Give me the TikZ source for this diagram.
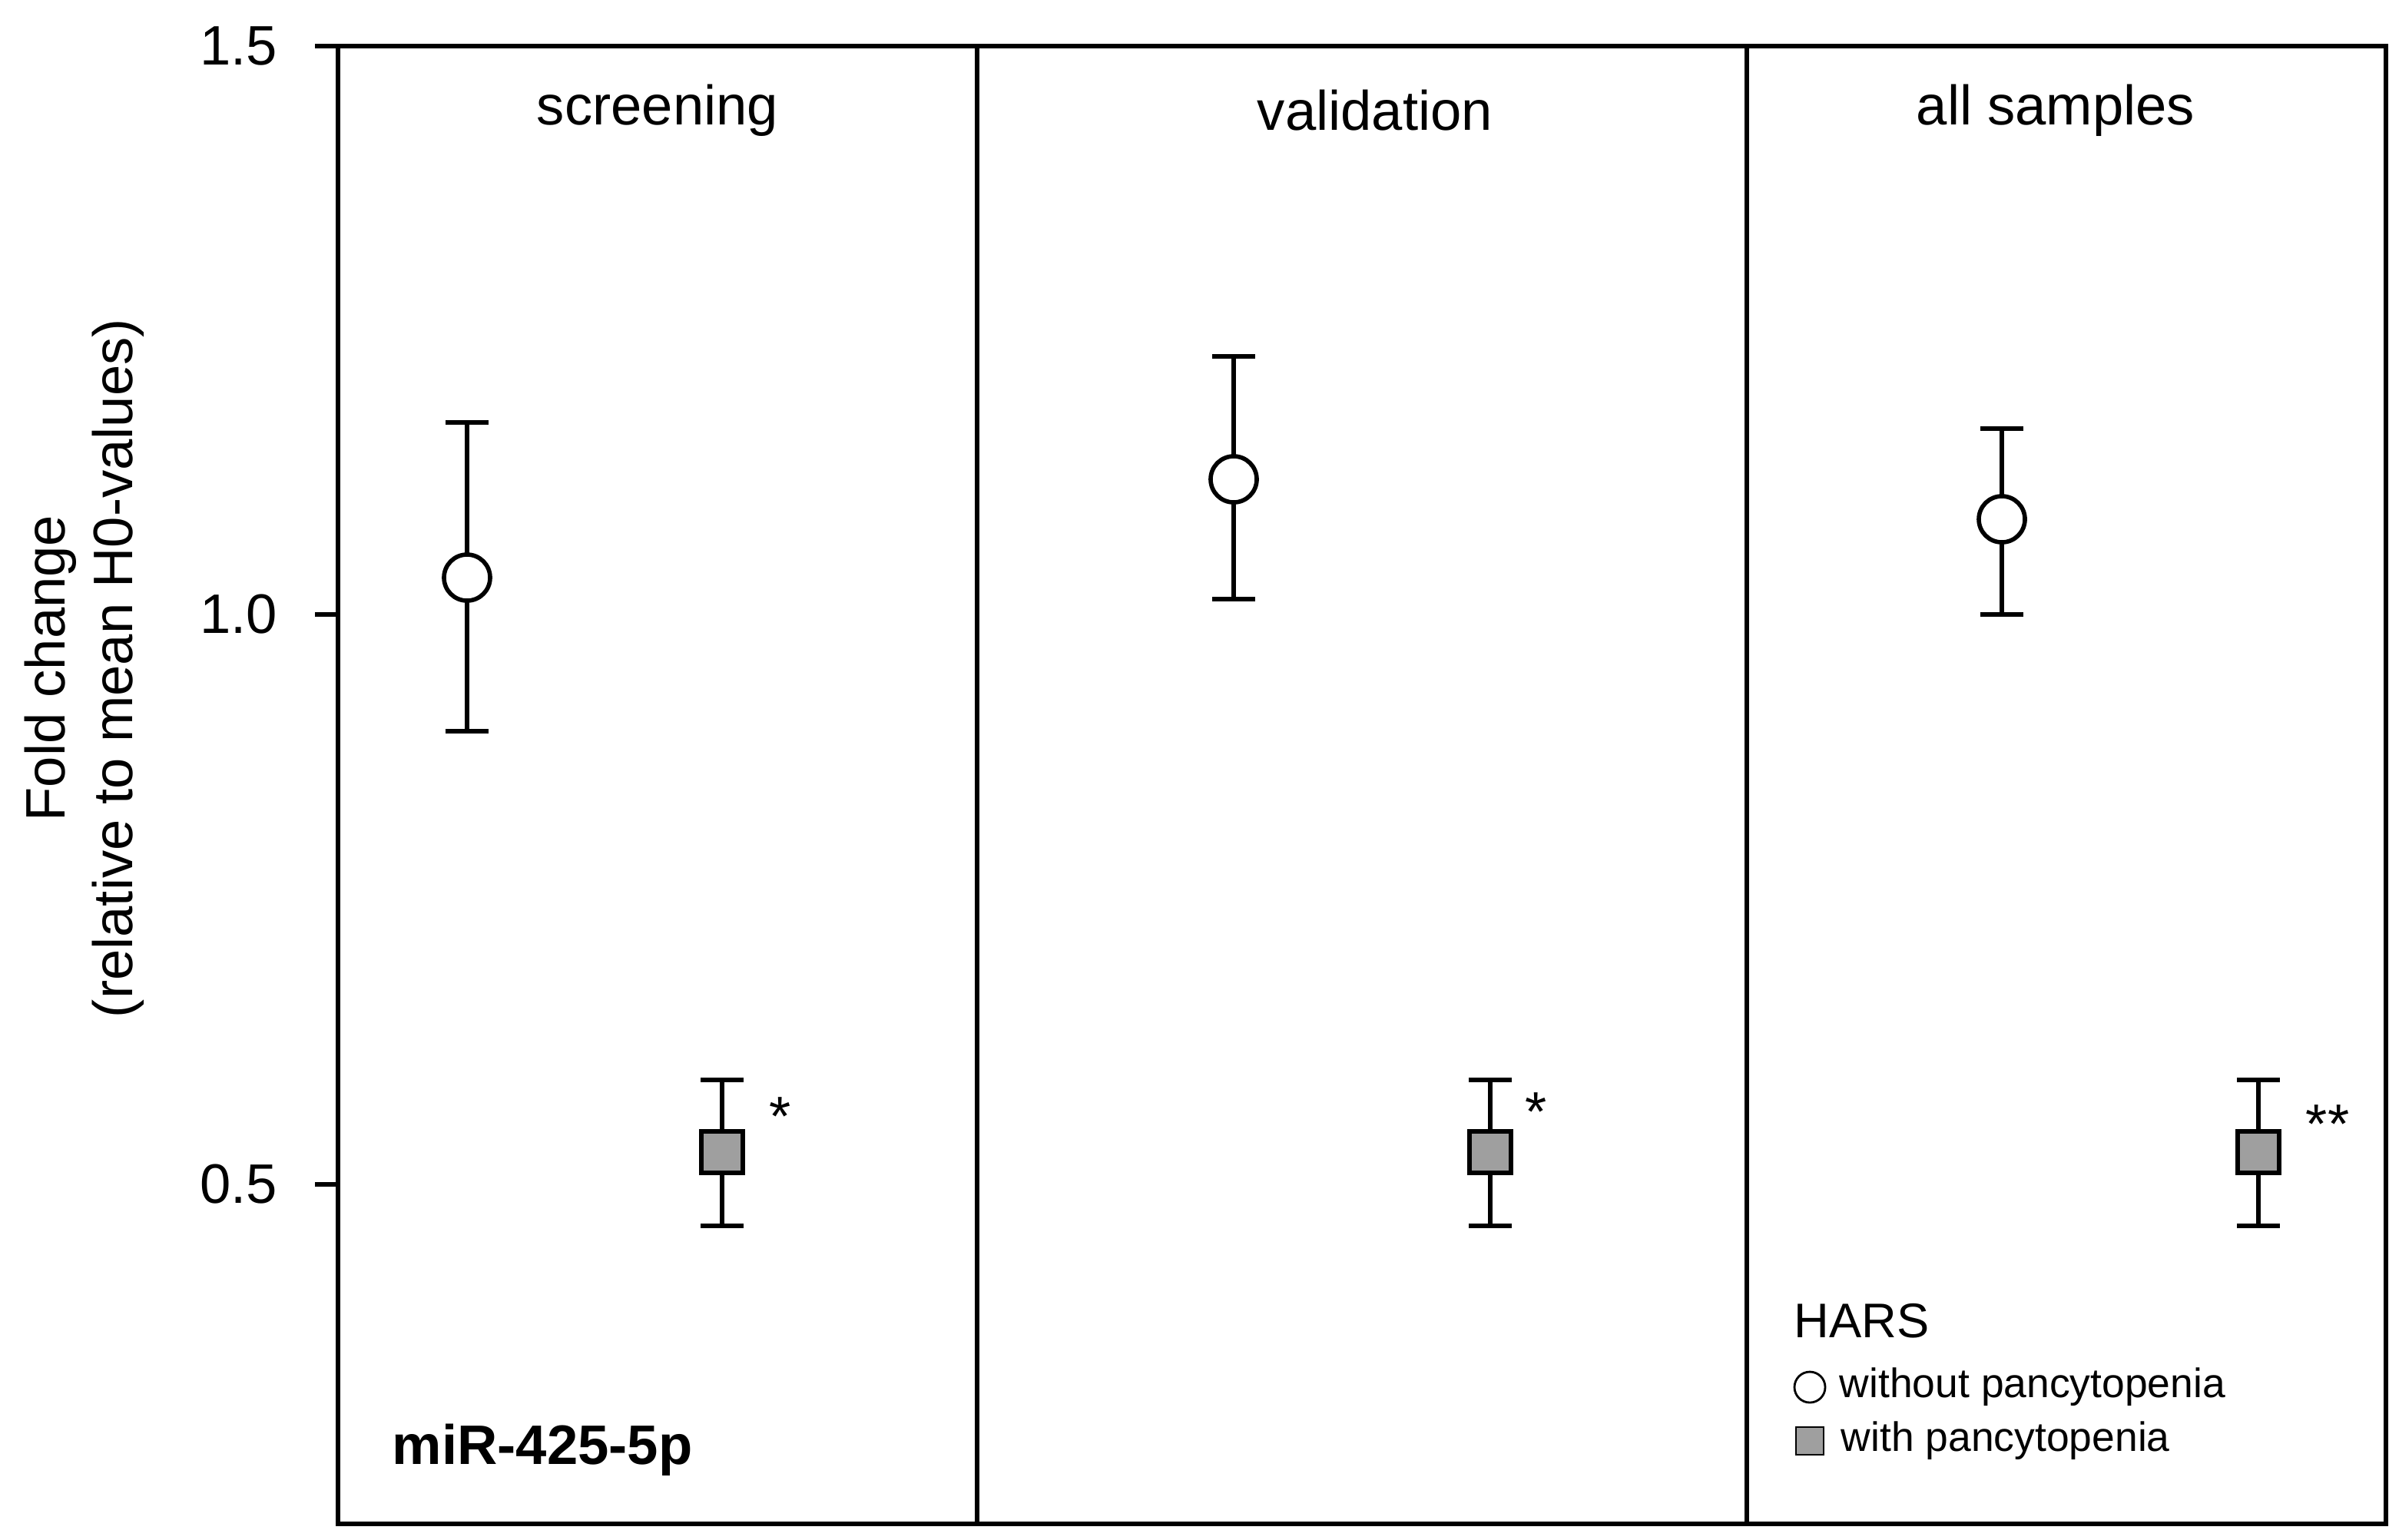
\documentclass[tikz,border=0pt]{standalone}
\usepackage{fontspec}
\setmainfont{Liberation Sans}
\usetikzlibrary{positioning}
\tikzset{
  ctrl/.style={circle,draw,thick,fill=white,minimum size=0.3cm,inner sep=0pt},
  panc/.style={rectangle,draw,thick,fill=gray!75,minimum size=0.27cm,inner sep=0pt},
  errbar/.style={thick},
  ttl/.style={font=\fontsize{10.3}{12.5}\selectfont},
  lgd/.style={font=\fontsize{7.6}{9}\selectfont,anchor=west,inner sep=0pt}
}
\begin{document}
\begin{tikzpicture}[x=0.01cm,y=-0.01cm]
        \useasboundingbox (0,0) rectangle (1555,1002);
        % frame and panels
        \draw[thick] (220,30) rectangle (1553,992);
        \draw[thick] (636,30) -- (636,992);
        \draw[thick] (1137,30) -- (1137,992);
        % y axis
        \foreach \v/\y in {1.5/30,1.0/400,0.5/771}{
          \draw[thick] (205,\y) -- (220,\y);
          \node[ttl,anchor=east] (t\y) at (193,\y) {\v};
        }
        \node[ttl,rotate=90,align=center] (ylab) at (55,435) {Fold change\\(relative to mean H0-values)};
        % titles
        \node[ttl] (ts) at (428,72) {screening};
        \node[ttl] (tv) at (895,72) {validation};
        \node[ttl] (ta) at (1338,72) {all samples};
        % error bars and means
        \foreach \n/\x/\m/\lo/\hi in {cs/304/376/476/275, cv/803/312/390/232, ca/1303/338/400/279,
                                      ps/470/750/798/703, pv/970/750/798/703, pa/1470/750/798/703}{
          \coordinate (\n lo) at (\x,\lo);
          \coordinate (\n hi) at (\x,\hi);
          \draw[errbar] (\n lo) -- (\n hi);
          \draw[errbar] ([xshift=-0.14cm]\n lo) -- ([xshift=0.14cm]\n lo);
          \draw[errbar] ([xshift=-0.14cm]\n hi) -- ([xshift=0.14cm]\n hi);
        }
        \foreach \n/\x/\m in {cs/304/376, cv/803/312, ca/1303/338}
          \node[ctrl] (\n) at (\x,\m) {};
        \foreach \n/\x in {ps/470, pv/970, pa/1470}
          \node[panc] (\n) at (\x,750) {};
        % significance
        \node[ttl] (ss) at (508,727) {*};
        \node[ttl] (sv) at (1000,724) {*};
        \node[ttl] (sa) at (1515,732) {**};
        % label and legend
        \node[ttl,anchor=west,font=\fontsize{10.3}{12.5}\selectfont\bfseries] (mir) at (243,944) {miR-425-5p};
        \node[lgd,font=\fontsize{9}{11}\selectfont] (hars) at (1167,860) {HARS};
        \node[ctrl,thin,minimum size=0.2cm] (lc) at (1178,903) {};
        \node[lgd,right=0.08cm of lc] (lct) {without pancytopenia};
        \node[panc,thin,minimum size=0.18cm] (lp) at (1178,938) {};
        \node[lgd,right=0.1cm of lp] (lpt) {with pancytopenia};
      \end{tikzpicture}
\end{document}
